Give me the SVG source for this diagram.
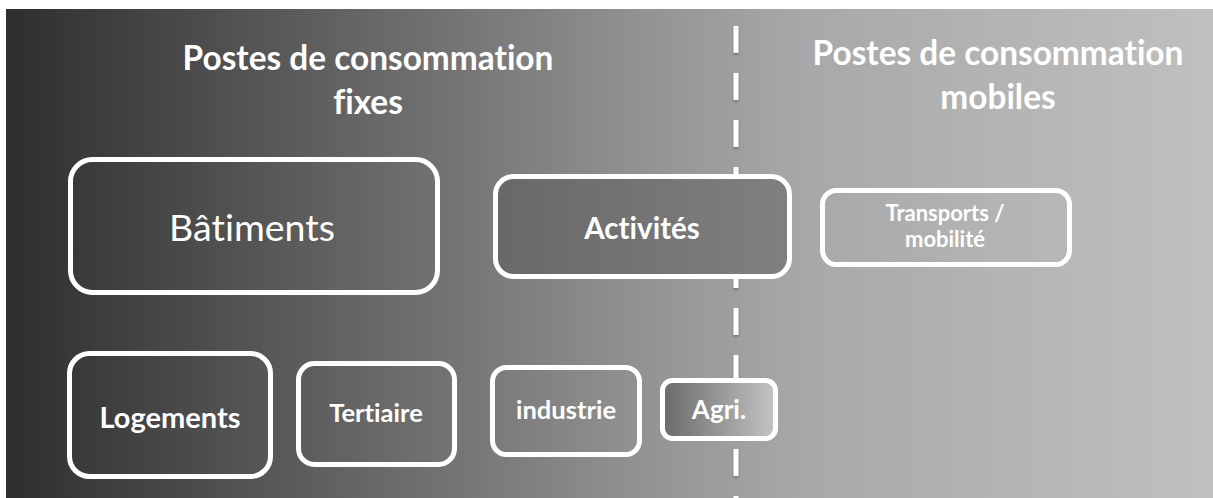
<svg xmlns="http://www.w3.org/2000/svg" width="1213" height="498" viewBox="0 0 1213 498">
  <defs>
    <linearGradient id="bg" gradientUnits="userSpaceOnUse" x1="6" y1="0" x2="1213" y2="0">
      <stop offset="0" stop-color="#2e2e2e"/>
      <stop offset="0.36" stop-color="#727272"/>
      <stop offset="0.53" stop-color="#939393"/>
      <stop offset="0.66" stop-color="#a8a8a8"/>
      <stop offset="1" stop-color="#c0c0c0"/>
    </linearGradient>
    <linearGradient id="actFill" x1="0" y1="0" x2="1" y2="0">
      <stop offset="0" stop-color="#686868"/>
      <stop offset="1" stop-color="#808080"/>
    </linearGradient>
    <linearGradient id="agriFill" x1="0" y1="0" x2="1" y2="0">
      <stop offset="0" stop-color="#6a6a6a"/>
      <stop offset="1" stop-color="#c4c4c4"/>
    </linearGradient>
    <filter id="sh" filterUnits="userSpaceOnUse" x="716" y="0" width="40" height="498">
      <feDropShadow dx="0" dy="1.5" stdDeviation="1.2" flood-color="#000" flood-opacity="0.35"/>
    </filter>
  </defs>
  <style>
    .box { stroke: #ffffff; stroke-width: 5; }
    .t { font-family: Lato, "Open Sans", "Liberation Sans", sans-serif; fill: #ffffff; text-anchor: middle; font-variant-ligatures: none; }
    .b { font-weight: bold; }
    .dash { stroke: #ffffff; stroke-width: 5; stroke-dasharray: 27 20; fill: none; }
  </style>
  <rect x="0" y="0" width="1213" height="498" fill="#ffffff"/>
  <rect x="6" y="9" width="1207" height="489" fill="url(#bg)"/>

  <g id="titles">
    <text class="t b" x="368" y="70" font-size="33.4">Postes de consommation</text>
    <text class="t b" x="368" y="114" font-size="33.4">fixes</text>
    <text class="t b" x="998" y="65" font-size="33.4">Postes de consommation</text>
    <text class="t b" x="998" y="109" font-size="33.4">mobiles</text>
  </g>

  <g id="connectors">
    <line class="dash" x1="736" y1="26" x2="736" y2="498" filter="url(#sh)"/>
  </g>

  <g id="batiments">
    <rect class="box" x="70.5" y="159.5" width="367" height="133" rx="22" fill="url(#bg)"/>
    <text class="t" x="252" y="241" font-size="37.5">Bâtiments</text>
  </g>
  <g id="activites">
    <rect class="box" x="495.5" y="176.5" width="294" height="100" rx="18" fill="url(#actFill)"/>
    <text class="t b" x="642" y="239" font-size="29.5">Activités</text>
  </g>
  <g id="transports">
    <rect class="box" x="822.5" y="190.5" width="247" height="74" rx="14" fill="url(#bg)"/>
    <text class="t b" x="945" y="221" font-size="22">Transports /</text>
    <text class="t b" x="945" y="247" font-size="22">mobilité</text>
  </g>
  <g id="logements">
    <rect class="box" x="69.5" y="353.5" width="201" height="123" rx="20" fill="url(#bg)"/>
    <text class="t b" x="170" y="428" font-size="29">Logements</text>
  </g>
  <g id="tertiaire">
    <rect class="box" x="298.5" y="363.5" width="156" height="101" rx="16" fill="url(#bg)"/>
    <text class="t b" x="376" y="422" font-size="25.5">Tertiaire</text>
  </g>
  <g id="industrie">
    <rect class="box" x="492.5" y="367.5" width="147" height="87" rx="14" fill="url(#bg)"/>
    <text class="t b" x="566" y="419" font-size="25.5">industrie</text>
  </g>
  <g id="agri">
    <rect class="box" x="662.5" y="380.5" width="113" height="58" rx="10" fill="url(#agriFill)"/>
    <text class="t b" x="719" y="419" font-size="26">Agri.</text>
  </g>
</svg>
